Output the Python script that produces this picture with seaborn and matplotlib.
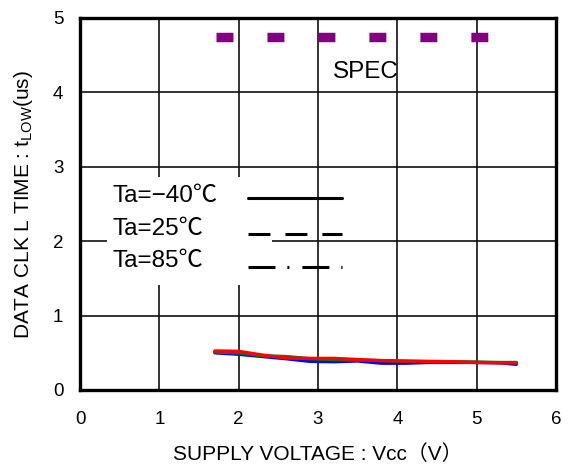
import matplotlib
matplotlib.use("Agg")
import matplotlib.pyplot as plt
import seaborn as sns
import pandas as pd
from matplotlib.lines import Line2D
from matplotlib.patches import Rectangle

# ---- data ----
vcc = [1.7, 2.0, 2.3, 2.6, 2.9, 3.2, 3.5, 3.8, 4.1, 4.4, 4.7, 5.0, 5.3, 5.5]
tlow_blue = [0.50, 0.48, 0.45, 0.42, 0.385, 0.38, 0.39, 0.36, 0.36, 0.37, 0.37, 0.37, 0.365, 0.345]
tlow_green = [0.51, 0.50, 0.46, 0.45, 0.42, 0.41, 0.40, 0.395, 0.385, 0.38, 0.38, 0.375, 0.37, 0.37]
tlow_red = [0.525, 0.52, 0.47, 0.43, 0.425, 0.425, 0.41, 0.395, 0.39, 0.385, 0.38, 0.37, 0.365, 0.365]
series_names = ["Ta=85℃", "Ta=25℃", "Ta=−40℃"]
series_colors = ["#0000ff", "#008000", "#ff0000"]

spec_x = [1.71, 5.5]
spec_y = [4.75, 4.75]

legend_labels = ["Ta=−40℃", "Ta=25℃", "Ta=85℃"]
x_ticks = [0, 1, 2, 3, 4, 5, 6]
y_ticks = [0, 1, 2, 3, 4, 5]

# ---- style ----
sns.set_style("white")
plt.rcParams["font.family"] = ["Liberation Sans", "Noto Sans CJK JP", "DejaVu Sans"]
plt.rcParams["mathtext.fontset"] = "custom"
plt.rcParams["mathtext.rm"] = "Liberation Sans"
plt.rcParams["mathtext.it"] = "Liberation Sans"
plt.rcParams["lines.scale_dashes"] = False
for key in ["text.color", "axes.labelcolor", "xtick.color", "ytick.color"]:
    plt.rcParams[key] = "black"

fig = plt.figure(figsize=(5.74, 4.66), dpi=100)
ax = fig.add_axes([80 / 574, 1 - 390 / 466, 476 / 574, 372 / 466])

rows = []
for name, ys in zip(series_names, [tlow_blue, tlow_green, tlow_red]):
    for x, y in zip(vcc, ys):
        rows.append({"Vcc": x, "tLOW": y, "Ta": name})
df = pd.DataFrame(rows)

sns.lineplot(data=df, x="Vcc", y="tLOW", hue="Ta", hue_order=series_names,
             palette=dict(zip(series_names, series_colors)), linewidth=2.4,
             legend=False, ax=ax, zorder=4)

# SPEC line
ax.plot(spec_x, spec_y, color="#800080", linewidth=6.8,
        linestyle=(0, (12.2, 24.5)), dash_capstyle="butt", zorder=4)
ax.text(3.19, 4.27, "SPEC", fontsize=17.5, ha="left", va="center", zorder=5)

ax.set_xlim(0, 6)
ax.set_ylim(0, 5)
ax.set_xticks(x_ticks)
ax.set_yticks(y_ticks)
ax.grid(True, color="#111111", linewidth=1.2)
ax.set_axisbelow(True)
for s in ax.spines.values():
    s.set_linewidth(2.4)
    s.set_color("black")
ax.tick_params(axis="both", length=0, labelsize=13.5)
ax.tick_params(axis="x", pad=15)
ax.tick_params(axis="y", pad=12)

ax.set_xlabel("SUPPLY VOLTAGE : Vcc（V）", fontsize=15)
ax.xaxis.set_label_coords(0.5, -0.146)
ax.set_ylabel(r"DATA CLK L TIME : t$_{\mathrm{LOW}}$(us)", fontsize=15)
ax.yaxis.set_label_coords(-0.094, 0.5)

# legend-like annotation block (text left, sample right)
ax.add_patch(Rectangle((0.0567, 0.2823), 0.3467, 0.2903, transform=ax.transAxes,
                       facecolor="white", edgecolor="none", zorder=2))
text_y = [0.5215, 0.4328, 0.3468]
line_y = [0.5161, 0.4194, 0.3306]
styles = ["-", (0, (15.8, 10.8)), (0, (19.4, 8.6, 1.4, 9.4))]
for lab, ty, ly, ls in zip(legend_labels, text_y, line_y, styles):
    ax.text(0.0693, ty, lab, transform=ax.transAxes, fontsize=17.5,
            ha="left", va="center", zorder=5)
    ax.add_line(Line2D([0.353, 0.5504], [ly, ly], transform=ax.transAxes,
                       color="black", linewidth=2.2, linestyle=ls,
                       dash_capstyle="butt", zorder=5))

fig.savefig("out.png", dpi=100)
